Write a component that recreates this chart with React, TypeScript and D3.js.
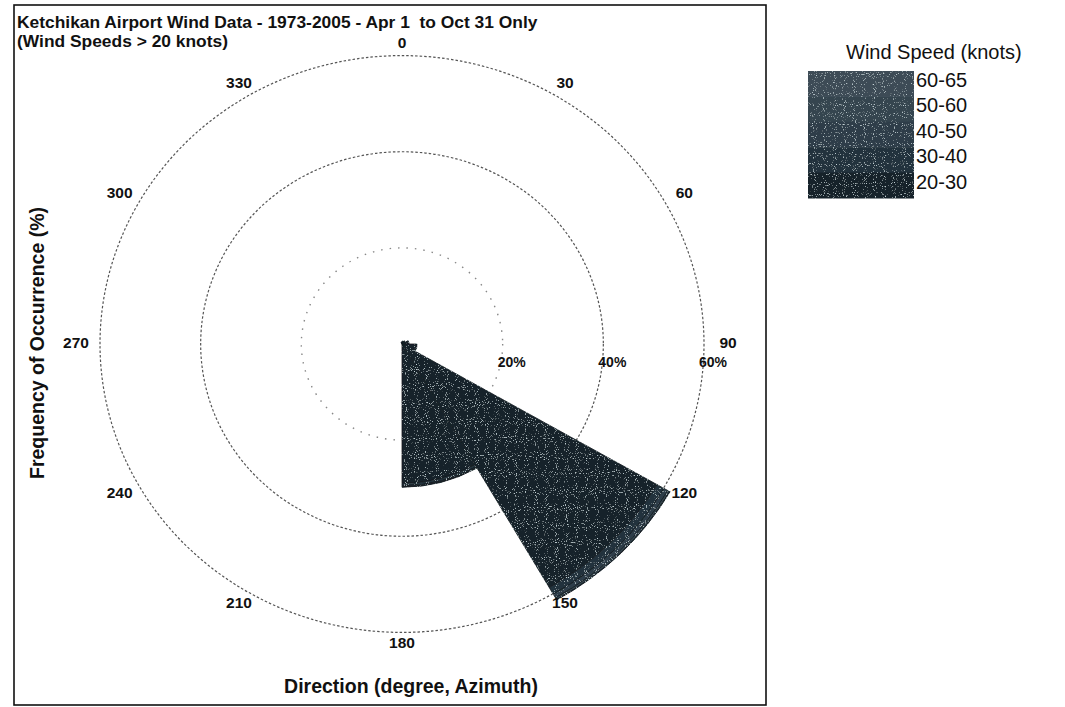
import React from "react";
import * as d3 from "d3";

// ---- data ----
const speedBins = ["20-30", "30-40", "40-50", "50-60", "60-65"];
const binColors = ["#17232b", "#24333c", "#2e3e48", "#35454f", "#3c4c56"];
// direction sectors (start azimuth, 30 degrees wide)
const sectorStart = [0, 30, 60, 90, 120, 150, 180, 210, 240, 270, 300, 330];
// frequency (%) per speed bin for each sector
const freq2030 = [0.6, 0.8, 1.2, 2.6, 58.5, 29.0, 0.0, 0.0, 0.0, 0.0, 0.0, 0.4];
const freq3040 = [0.0, 0.0, 0.2, 0.3, 1.6, 0.5, 0.0, 0.0, 0.0, 0.0, 0.0, 0.0];
const freq4050 = [0.0, 0.0, 0.0, 0.1, 0.9, 0.2, 0.0, 0.0, 0.0, 0.0, 0.0, 0.0];
const freq5060 = [0.0, 0.0, 0.0, 0.0, 0.4, 0.1, 0.0, 0.0, 0.0, 0.0, 0.0, 0.0];
const freq6065 = [0.0, 0.0, 0.0, 0.0, 0.1, 0.0, 0.0, 0.0, 0.0, 0.0, 0.0, 0.0];
const angleTicks = [0, 30, 60, 90, 120, 150, 180, 210, 240, 270, 300, 330];
const ringTicks = [20, 40, 60];

const FONT = "'Liberation Sans', Arial, Helvetica, sans-serif";

export default function App() {
  const cx = 402;
  const cy = 344;
  const ys = 0.955;
  const r = d3.scaleLinear().domain([0, 60]).range([0, 302]);
  const series = [freq2030, freq3040, freq4050, freq5060, freq6065];
  const toRad = (deg: number) => (deg * Math.PI) / 180;

  const arc = d3.arc<any>();
  const wedges: { d: string; color: string; key: string }[] = [];
  sectorStart.forEach((s, i) => {
    let acc = 0;
    series.forEach((vals, b) => {
      const v = vals[i];
      if (v <= 0) return;
      const d = arc({
        innerRadius: r(acc),
        outerRadius: r(acc + v),
        startAngle: toRad(s),
        endAngle: toRad(s + 30),
      }) as string;
      acc += v;
      wedges.push({ d, color: binColors[b], key: `${i}-${b}` });
    });
  });

  const labelRx = 326;
  const labelRy = 300;
  const labelCy = cy - 1.5;

  const legendX = 808;
  const legendY = 71;
  const rowH = 25.4;
  const legendOrder = speedBins.map((_, i) => speedBins.length - 1 - i);

  return (
    <svg
      width={1065}
      height={707}
      style={{ position: "absolute", left: 0, top: 0, background: "#fff" }}
      fontFamily={FONT}
    >
      <defs>
        <filter id="speckle" x="0" y="0" width="100%" height="100%">
          <feTurbulence type="fractalNoise" baseFrequency="0.9" numOctaves="1" seed="3" result="n" />
          <feColorMatrix
            in="n"
            type="matrix"
            values="0 0 0 0 0.55  0 0 0 0 0.65  0 0 0 0 0.68  0 0 0 6 -3.7"
            result="dots"
          />
          <feComposite in="dots" in2="SourceGraphic" operator="in" result="d2" />
          <feMerge>
            <feMergeNode in="SourceGraphic" />
            <feMergeNode in="d2" />
          </feMerge>
        </filter>
      </defs>
      <rect x={14} y={5} width={752} height={700} fill="none" stroke="#111" strokeWidth={1.6} />

      <text x={17} y={28} fontSize={17.4} fontWeight="bold" fill="#111">
        Ketchikan Airport Wind Data - 1973-2005 - Apr 1{"\u00a0"} to Oct 31 Only
      </text>
      <text x={17} y={47} fontSize={17.4} fontWeight="bold" fill="#111">
        (Wind Speeds &gt; 20 knots)
      </text>

      <g transform={`translate(${cx},${cy}) scale(1,${ys})`}>
        {ringTicks.map((t) => (
          <circle
            key={t}
            r={r(t)}
            fill="none"
            stroke={t === 20 ? "#888" : "#555"}
            strokeWidth={t === 20 ? 1.4 : 1.2}
            strokeDasharray={t === 20 ? "1.5 7" : "2.5 2"}
            vectorEffect="non-scaling-stroke"
          />
        ))}
        <g filter="url(#speckle)">
          {wedges.map((w) => (
            <path
              key={w.key}
              d={w.d}
              fill={w.color}
              stroke="#111a1f"
              strokeWidth={0.8}
              vectorEffect="non-scaling-stroke"
            />
          ))}
        </g>
      </g>

      {angleTicks.map((a) => (
        <text
          key={a}
          x={cx + labelRx * Math.sin(toRad(a))}
          y={labelCy - labelRy * Math.cos(toRad(a))}
          fontSize={15.5}
          fontWeight="bold"
          fill="#111"
          textAnchor="middle"
          dominantBaseline="central"
        >
          {a}
        </text>
      ))}

      {ringTicks.map((t) => (
        <text
          key={t}
          x={cx + r(t) + 9}
          y={362}
          fontSize={14}
          fontWeight="bold"
          fill="#111"
          textAnchor="middle"
          dominantBaseline="central"
        >
          {t}%
        </text>
      ))}

      <text x={411} y={693} fontSize={19.5} fontWeight="bold" fill="#111" textAnchor="middle">
        Direction (degree, Azimuth)
      </text>
      <text
        transform={`translate(44,343) rotate(-90)`}
        fontSize={19.5}
        fontWeight="bold"
        fill="#111"
        textAnchor="middle"
      >
        Frequency of Occurrence (%)
      </text>

      <text x={846} y={59} fontSize={20} fill="#111">
        Wind Speed (knots)
      </text>
      <g filter="url(#speckle)">
        {legendOrder.map((b, i) => (
          <rect
            key={b}
            x={legendX}
            y={legendY + i * rowH}
            width={106}
            height={rowH + 0.5}
            fill={binColors[b]}
          />
        ))}
      </g>
      {legendOrder.map((b, i) => (
        <text key={b} x={916} y={legendY + 16 + i * rowH} fontSize={20} fill="#111">
          {speedBins[b]}
        </text>
      ))}
    </svg>
  );
}
